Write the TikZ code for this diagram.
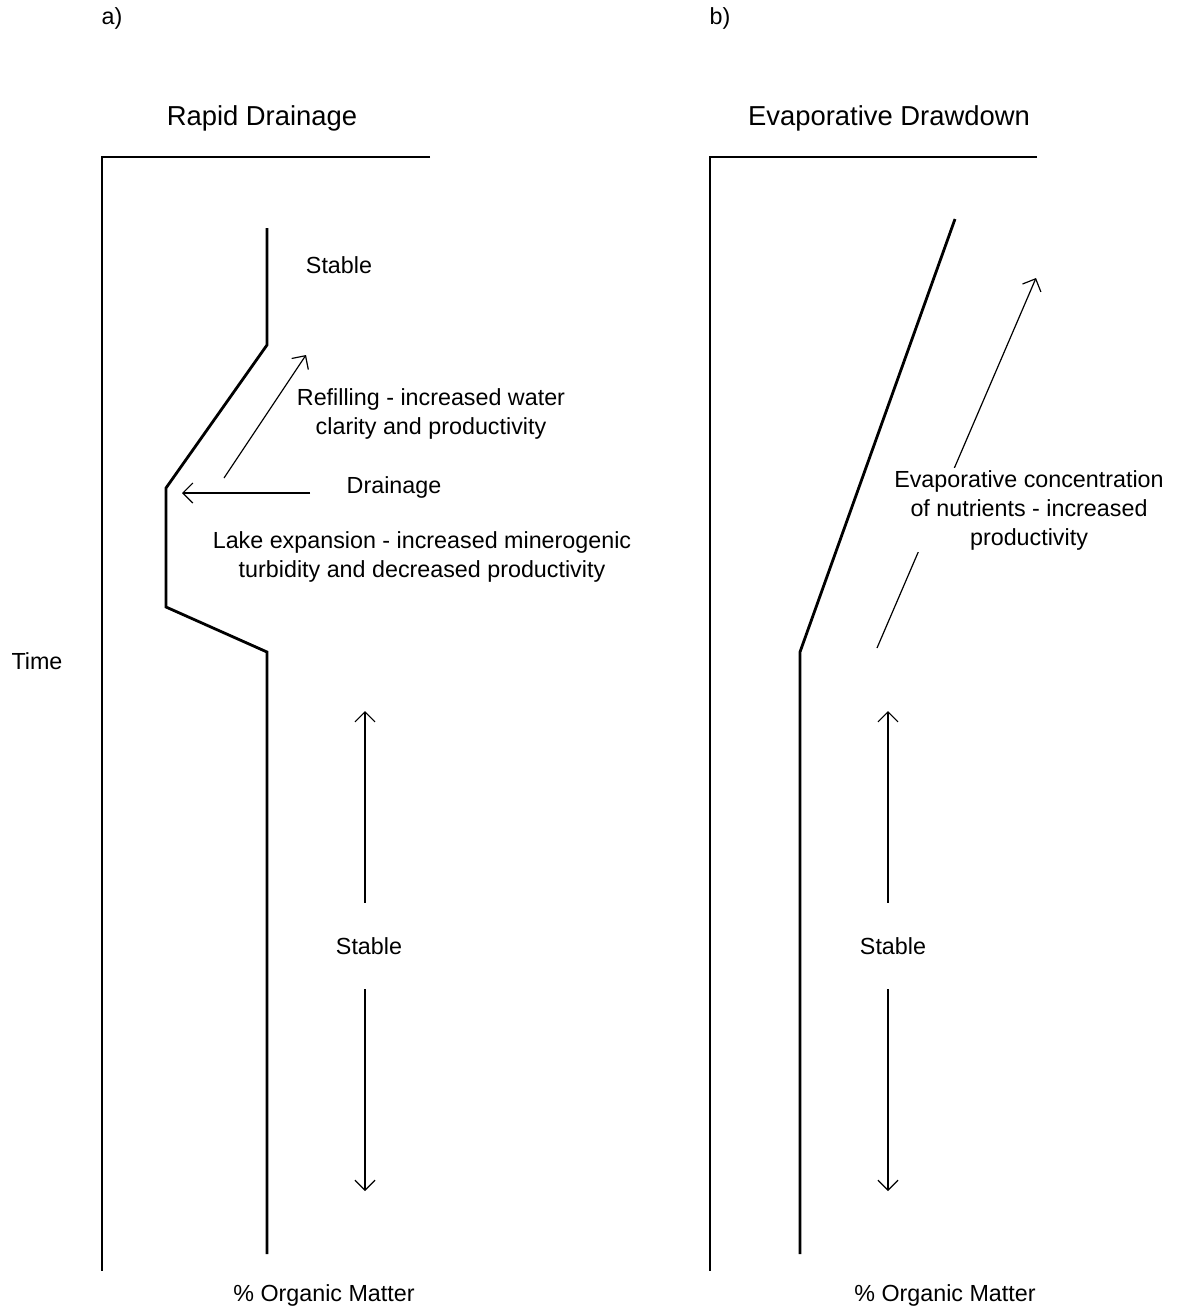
\documentclass[tikz,border=0pt]{standalone}
\usepackage{fontspec}
\setmainfont{Liberation Sans}
\usetikzlibrary{arrows.meta}
\tikzset{
  tip/.tip={Straight Barb[length=10pt,width=20pt,line width=1.2pt]},
  axis/.style={line width=2.6pt},
  trace/.style={line width=2.8pt, line join=miter},
  arr/.style={line width=1.2pt, -tip},
  darr/.style={line width=1.2pt, tip-tip},
  lbl/.style={font=\fontsize{23.3}{29}\selectfont, align=center, inner sep=2pt},
  ttl/.style={font=\fontsize{27.4}{33}\selectfont, inner sep=2pt},
  gap/.style={lbl, fill=white, inner xsep=5pt, inner ysep=2pt},
  stabgap/.style={lbl, fill=white, minimum height=86pt, minimum width=80pt}
}
\begin{document}
\begin{tikzpicture}[x=1pt,y=-1pt]
\useasboundingbox (0,0) rectangle (1180,1310) ;
% frames
\draw[axis] (430,157) -- (102,157) -- (102,1271) ;
\draw[axis] (1037,157) -- (710,157) -- (710,1271) ;
% a) rapid drainage record
\coordinate (a0) at (267,228) ;
\coordinate (a1) at (267,345) ;
\coordinate (a2) at (166,488) ;
\coordinate (a3) at (166,607) ;
\coordinate (a4) at (267,652) ;
\coordinate (a5) at (267,1254) ;
\draw[trace] (a0) -- (a1) -- (a2) -- (a3) -- (a4) -- (a5) ;
% b) evaporative drawdown record
\coordinate (b0) at (955,219) ;
\coordinate (b1) at (800,652) ;
\coordinate (b2) at (800,1254) ;
\draw[trace] (b0) -- (b1) -- (b2) ;
% arrows
\coordinate (refA) at (224,478) ;
\coordinate (refB) at (306,355) ;
\draw[arr] (refA) -- (refB) ;
\coordinate (drA) at (310,493) ;
\coordinate (drB) at (182,493) ;
\draw[arr] (drA) -- (drB) ;
\coordinate (saT) at (365,711) ;
\coordinate (saB) at (365,1191) ;
\draw[darr] (saT) -- (saB) ;
\coordinate (sbT) at (888,711) ;
\coordinate (sbB) at (888,1191) ;
\draw[darr] (sbT) -- (sbB) ;
\coordinate (evA) at (877,648) ;
\coordinate (evB) at (1036,278) ;
\draw[arr] (evA) -- (evB) ;
% labels
\node[lbl] (la) at (112,18) {a)} ;
\node[lbl] (lb) at (720,18) {b)} ;
\node[ttl] (ta) at (262,118) {Rapid Drainage} ;
\node[ttl] (tb) at (889,118) {Evaporative Drawdown} ;
\node[lbl] (time) at (37,661) {Time} ;
\node[lbl] (stab1) at (339,265) {Stable} ;
\node[lbl] (refil) at (431,414) {Refilling - increased water\\clarity and productivity} ;
\node[lbl] (drain) at (394,487) {Drainage} ;
\node[lbl] (lake) at (422,557) {Lake expansion - increased minerogenic\\turbidity and decreased productivity} ;
\node[stabgap] (stab2) at (369,946) {Stable} ;
\node[stabgap] (stab3) at (893,946) {Stable} ;
\node[gap] (evap) at (1029,510) {Evaporative concentration\\of nutrients - increased\\productivity} ;
\node[lbl] (oma) at (324,1295) {\% Organic Matter} ;
\node[lbl] (omb) at (945,1295) {\% Organic Matter} ;
\end{tikzpicture}
\end{document}
